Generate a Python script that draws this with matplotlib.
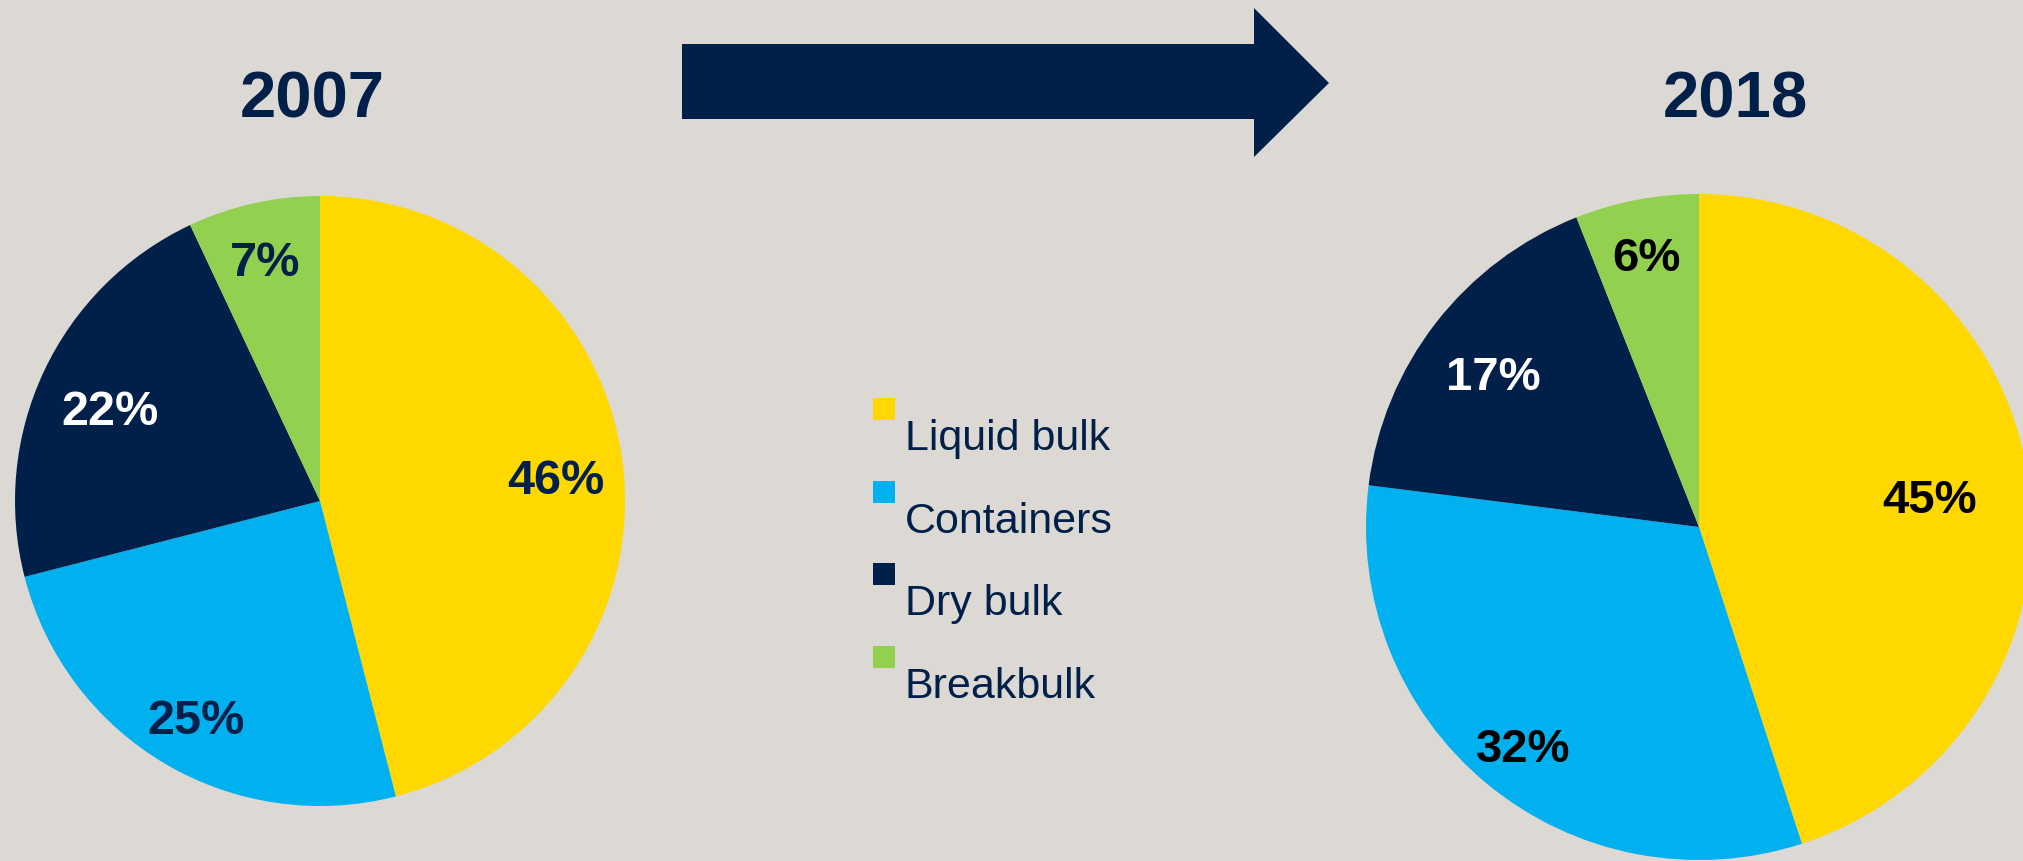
import matplotlib
matplotlib.use("Agg")
import matplotlib.pyplot as plt
from matplotlib.patches import Polygon, Rectangle

# ---------------- data ----------------
categories = ["Liquid bulk", "Containers", "Dry bulk", "Breakbulk"]
years = ["2007", "2018"]
shares_2007 = [46, 25, 22, 7]
shares_2018 = [45, 32, 17, 6]

# ---------------- style ----------------
NAVY = "#00204A"
colors = ["#FFD800", "#00B0EF", NAVY, "#92D050"]
BG = "#DCD9D4"
label_colors_2007 = [NAVY, NAVY, "white", NAVY]
label_colors_2018 = ["black", "black", "white", "black"]
label_dist_2007 = [0.78, 0.80, 0.76, 0.83]
label_dist_2018 = [0.70, 0.83, 0.78, 0.85]

W, H = 2023, 862
DPI = 100
plt.rcParams["font.family"] = ["Liberation Sans", "DejaVu Sans"]

fig = plt.figure(figsize=(W / DPI, H / DPI), dpi=DPI, facecolor=BG)


def px_axes(cx, cy, r):
    """axes centred at pixel (cx, cy) measured from top-left, radius r px"""
    return fig.add_axes([(cx - r) / W, (H - cy - r) / H, 2 * r / W, 2 * r / H])


def draw_pie(ax, values, lcolors, dists, fs, r_px):
    wedges, texts, autotexts = ax.pie(
        values, colors=colors, startangle=90, counterclock=False,
        autopct=lambda p: f"{p:.0f}%", pctdistance=0.8,
        wedgeprops=dict(linewidth=0),
        textprops=dict(fontsize=fs, fontweight="bold"))
    shift = 9.0 / r_px
    for t, c, d in zip(autotexts, lcolors, dists):
        x, y = t.get_position()
        s = d / 0.8
        t.set_position((x * s, y * s - shift))
        t.set_color(c)
        t.set_ha("center")
        t.set_va("center")
    ax.set_xlim(-1, 1)
    ax.set_ylim(-1, 1)
    ax.set_aspect("equal")
    ax.axis("off")


ax1 = px_axes(320, 502, 305)
draw_pie(ax1, shares_2007, label_colors_2007, label_dist_2007, 35, 305)
ax2 = px_axes(1699, 528, 333)
draw_pie(ax2, shares_2018, label_colors_2018, label_dist_2018, 34, 333)

# titles
fig.text(312 / W, 1 - 117 / H, years[0], fontsize=47, fontweight="bold",
         color=NAVY, ha="center", va="baseline")
fig.text(1735 / W, 1 - 117 / H, years[1], fontsize=47, fontweight="bold",
         color=NAVY, ha="center", va="baseline")

# arrow
arrow_px = [(682, 45), (1254, 45), (1254, 9), (1329, 84),
            (1254, 158), (1254, 120), (682, 120)]
fig.patches.append(Polygon([(x / W, 1 - y / H) for x, y in arrow_px],
                           closed=True, facecolor=NAVY, edgecolor="none",
                           transform=fig.transFigure, figure=fig))

# legend
sq_x, sq_y0, sq = 873, 399, 22
row = 82.7
for i, (cat, col) in enumerate(zip(categories, colors)):
    top = sq_y0 + i * row
    fig.patches.append(Rectangle((sq_x / W, 1 - (top + sq) / H), sq / W, sq / H,
                                 facecolor=col, edgecolor="none",
                                 transform=fig.transFigure, figure=fig))
    fig.text(905 / W, 1 - (top + 51) / H, cat, fontsize=31, color=NAVY,
             ha="left", va="baseline")

fig.savefig("out.png", dpi=DPI, facecolor=BG)
